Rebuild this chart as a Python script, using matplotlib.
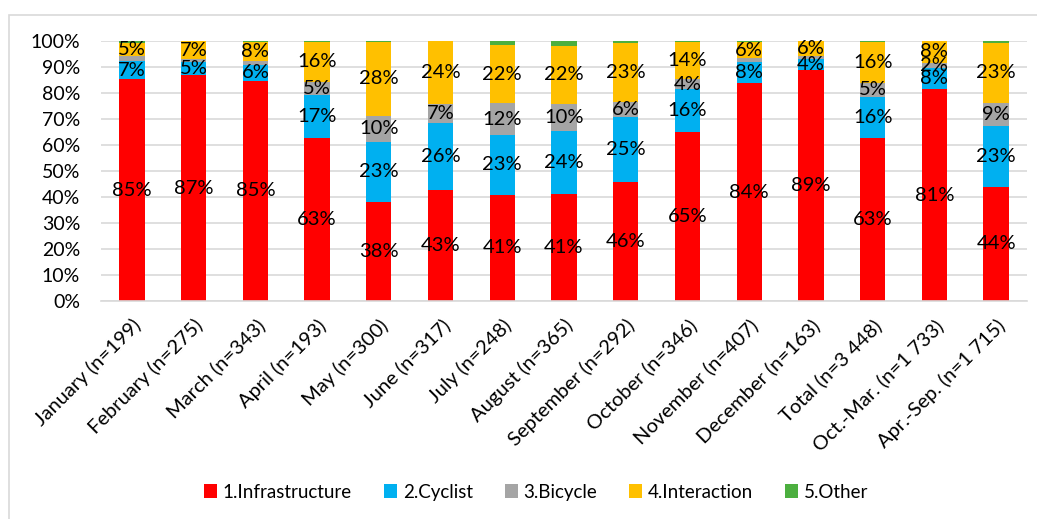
import matplotlib
matplotlib.use('Agg')
import matplotlib.pyplot as plt
import numpy as np
from matplotlib.patches import Rectangle

plt.rcParams['font.family'] = ['Lato', 'DejaVu Sans']

categories = ['January (n=199)', 'February (n=275)', 'March (n=343)', 'April (n=193)', 'May (n=300)',
              'June (n=317)', 'July (n=248)', 'August (n=365)', 'September (n=292)', 'October (n=346)',
              'November (n=407)', 'December (n=163)', 'Total (n=3 448)', 'Oct.-Mar. (n=1 733)',
              'Apr.-Sep. (n=1 715)']

# shares in percent
infrastructure = [85.2, 86.8, 84.8, 62.7, 38.0, 42.6, 40.9, 41.3, 45.9, 65.1, 83.7, 88.8, 62.8, 81.4, 44.0]
cyclist = [7.1, 5.0, 5.8, 16.6, 23.3, 25.9, 23.0, 24.2, 24.7, 16.3, 8.3, 4.3, 15.8, 8.3, 23.4]
bicycle = [1.8, 1.2, 1.6, 4.9, 10.0, 7.3, 12.1, 10.3, 6.1, 3.9, 1.3, 1.2, 5.4, 2.0, 8.9]
interaction = [5.3, 6.9, 7.6, 15.6, 28.3, 24.2, 22.4, 22.4, 22.6, 14.4, 6.4, 5.7, 15.6, 8.3, 23.0]
other = [0.6, 0.1, 0.2, 0.2, 0.4, 0.0, 1.6, 1.8, 0.7, 0.3, 0.3, 0.0, 0.4, 0.0, 0.7]

series_names = ['1.Infrastructure', '2.Cyclist', '3.Bicycle', '4.Interaction', '5.Other']
colors = ['#FF0000', '#00B0F0', '#A5A5A5', '#FFC000', '#4CAF3F']
# small segments that still carry a label in the original
extra_labels = [(13, 2)]

series = [infrastructure, cyclist, bicycle, interaction, other]

fig = plt.figure(figsize=(10.37, 5.19), dpi=100)
ax = fig.add_axes([101 / 1037, 1 - 301 / 519, 926 / 1037, 260 / 519])

x = np.arange(len(categories))
bottom = np.zeros(len(categories))
for s, (name, values, color) in enumerate(zip(series_names, series, colors)):
    values = np.array(values)
    ax.bar(x, values, width=0.41, bottom=bottom, color=color, label=name, zorder=2)
    for i, v in enumerate(values):
        if s < 4 and (v >= 3.5 or (i, s) in extra_labels):
            ax.text(x[i], bottom[i] + v / 2, f'{round(v)}%', ha='center', va='center',
                    fontsize=14.5, color='black', zorder=3)
    bottom += values

ax.set_xlim(-0.5, len(categories) - 0.5)
ax.set_ylim(0, 100)
ax.set_yticks(range(0, 101, 10))
ax.set_yticklabels([f'{t}%' for t in range(0, 101, 10)], fontsize=14)
ax.yaxis.grid(True, color='#D9D9D9', linewidth=1.2, zorder=0)
ax.set_axisbelow(True)
for side in ['top', 'right', 'left']:
    ax.spines[side].set_visible(False)
ax.spines['bottom'].set_color('#D9D9D9')
ax.spines['bottom'].set_linewidth(1.2)
ax.tick_params(axis='both', length=0)
ax.tick_params(axis='y', pad=15)
ax.tick_params(axis='x', pad=11)
ax.set_xticks(x)
ax.set_xticklabels(categories, rotation=45, ha='right', rotation_mode='anchor', fontsize=14.5)

ax.legend(loc='center', bbox_to_anchor=(536 / 1037, 0.052), bbox_transform=fig.transFigure, ncol=5,
          frameon=False, fontsize=13.5, handlelength=0.7, handleheight=0.7, handletextpad=0.3,
          columnspacing=1.7)

# chart area border (runs off the right and bottom edges)
fig.patches.append(Rectangle((9 / 1037, -0.2), 1.2, 1.2 - 15 / 519, transform=fig.transFigure,
                             fill=False, edgecolor='#D9D9D9', linewidth=1.2))

fig.savefig('out.png', dpi=100)
